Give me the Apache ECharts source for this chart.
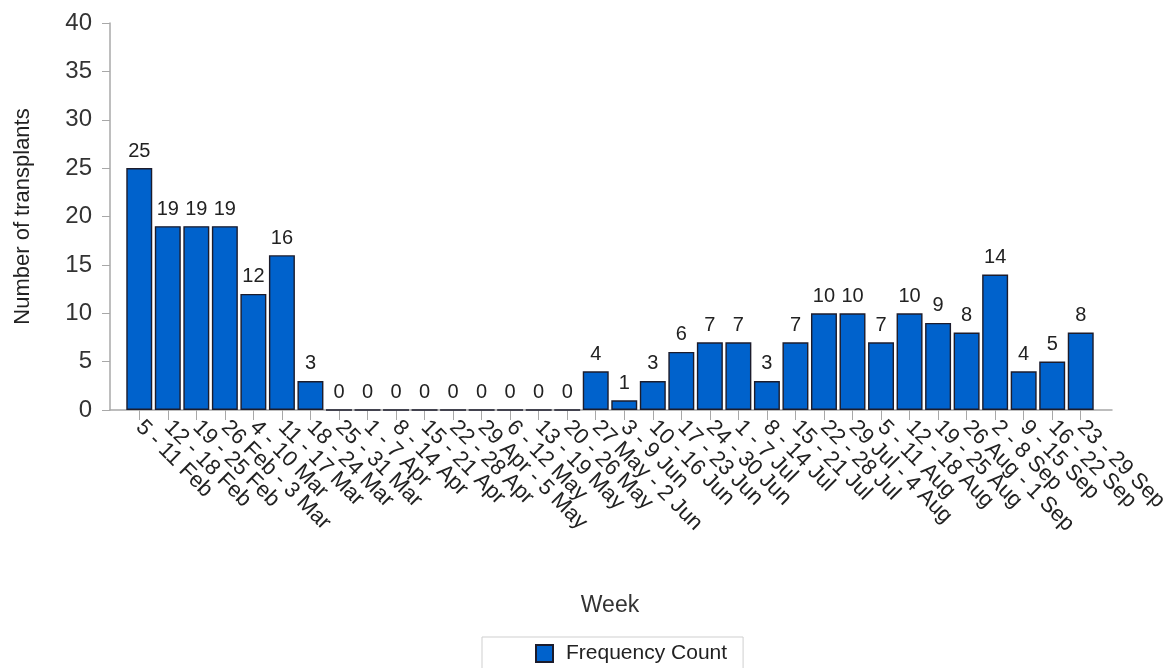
<!DOCTYPE html>
<html>
<head>
<meta charset="utf-8">
<script src="https://cdn.jsdelivr.net/npm/echarts@6/dist/echarts.min.js"></script>
<style>
html,body{margin:0;padding:0;background:#fff;}
#chart{width:1174px;height:668px;}
</style>
</head>
<body>
<div id="chart"></div>
<script>
const weeks = ["5 - 11 Feb","12 - 18 Feb","19 - 25 Feb","26 Feb - 3 Mar","4 - 10 Mar","11 - 17 Mar","18 - 24 Mar","25 - 31 Mar","1 - 7 Apr","8 - 14 Apr","15 - 21 Apr","22 - 28 Apr","29 Apr - 5 May","6 - 12 May","13 - 19 May","20 - 26 May","27 May - 2 Jun","3 - 9 Jun","10 - 16 Jun","17 - 23 Jun","24 - 30 Jun","1 - 7 Jul","8 - 14 Jul","15 - 21 Jul","22 - 28 Jul","29 Jul - 4 Aug","5 - 11 Aug","12 - 18 Aug","19 - 25 Aug","26 Aug - 1 Sep","2 - 8 Sep","9 - 15 Sep","16 - 22 Sep","23 - 29 Sep"];
const counts = [25,19,19,19,12,16,3,0,0,0,0,0,0,0,0,0,4,1,3,6,7,7,3,7,10,10,7,10,9,8,14,4,5,8];
const yTicks = [0,5,10,15,20,25,30,35,40];

const font = "'Liberation Sans', Arial, sans-serif";
const chart = echarts.init(document.getElementById('chart'));
chart.setOption({
  animation: false,
  textStyle: {fontFamily: font},
  grid: [
    {left: 125, right: 79, top: 23, bottom: 258},
    {left: 110, right: 62, top: 23, bottom: 258}
  ],
  legend: {
    data: ['Frequency Count'],
    left: 482, top: 637,
    padding: [6, 16, 8, 53],
    borderColor: '#cfcfcf', borderWidth: 1,
    icon: 'rect',
    itemWidth: 17, itemHeight: 17, itemGap: 6,
    textStyle: {fontSize: 21, color: '#222', fontFamily: font, padding: [0, 0, 0, 8]}
  },
  xAxis: [
    {
      type: 'category', gridIndex: 0, data: weeks,
      axisLine: {show: false},
      axisTick: {show: true, alignWithLabel: true, length: 10, lineStyle: {color: '#a8a8a8'}},
      axisLabel: {rotate: -45, interval: 0, fontSize: 22, color: '#222', margin: 14},
      name: 'Week', nameLocation: 'middle', nameGap: 184,
      nameTextStyle: {fontSize: 23, color: '#333'}
    },
    {
      type: 'category', gridIndex: 1, data: [''],
      axisLine: {show: true, lineStyle: {color: '#a8a8a8', width: 1.5}},
      axisTick: {show: false}, axisLabel: {show: false}
    }
  ],
  yAxis: [
    {
      type: 'value', gridIndex: 0, min: 0, max: 40, interval: 5, offset: 15,
      axisLine: {show: true, lineStyle: {color: '#a8a8a8', width: 1.5}},
      axisTick: {show: true, length: 8, lineStyle: {color: '#a8a8a8'}},
      splitLine: {show: false},
      axisLabel: {fontSize: 24, color: '#333', margin: 18,
        formatter: v => yTicks.includes(v) ? String(v) : ''},
      name: 'Number of transplants', nameLocation: 'middle', nameGap: 76,
      nameTextStyle: {fontSize: 22, color: '#222'}
    },
    {
      type: 'value', gridIndex: 1, min: 0, max: 40, show: false
    }
  ],
  series: [{
    name: 'Frequency Count',
    type: 'bar',
    xAxisIndex: 0, yAxisIndex: 0,
    data: counts,
    barCategoryGap: '9%',
    itemStyle: {color: '#0062cc', borderColor: '#1c1c2c', borderWidth: 1.4},
    label: {show: true, position: 'top', distance: 7, fontSize: 20, color: '#222'}
  }]
});
</script>
</body>
</html>
